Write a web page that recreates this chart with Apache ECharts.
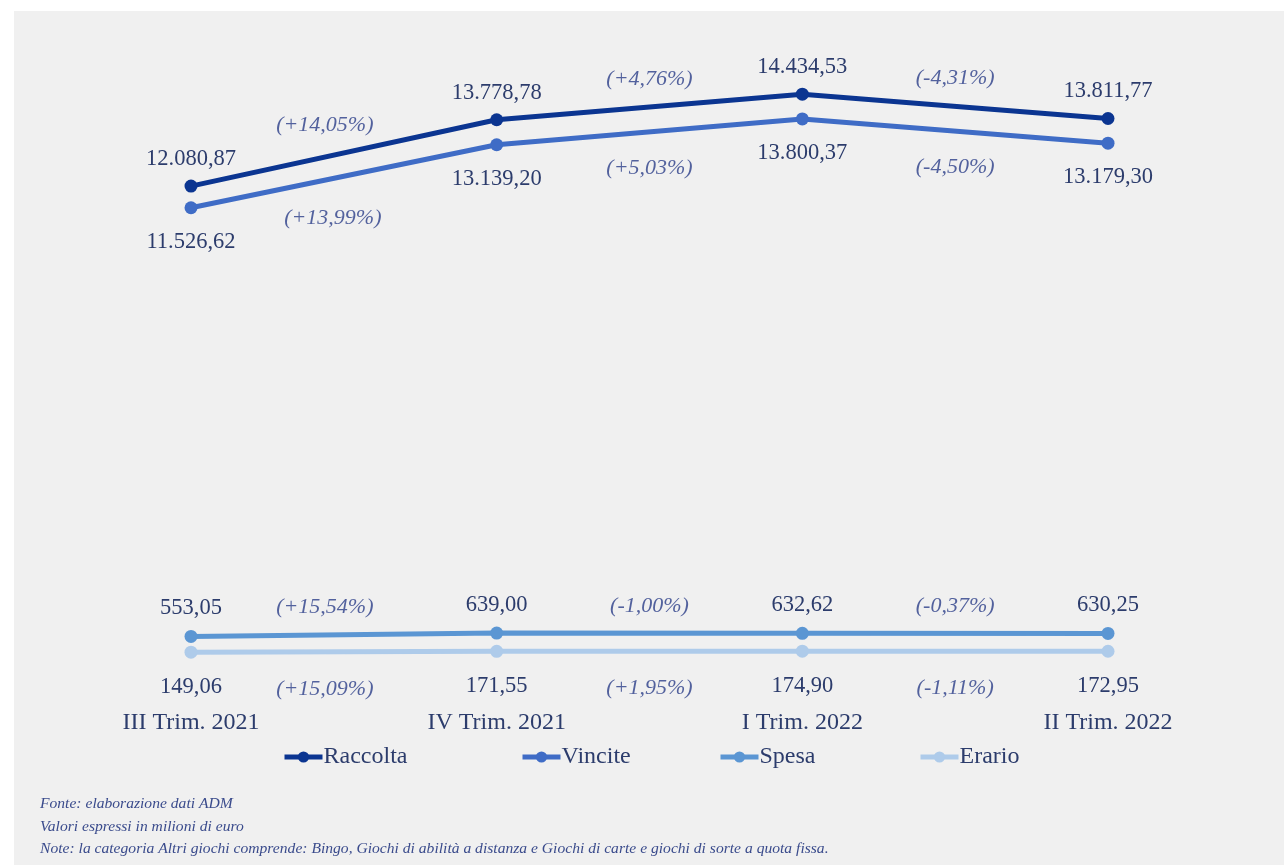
<!DOCTYPE html>
<html>
<head>
<meta charset="utf-8">
<script src="https://cdn.jsdelivr.net/npm/echarts@6/dist/echarts.min.js"></script>
<style>
html,body{margin:0;padding:0;background:#ffffff;}
#chart{width:1284px;height:865px;}
</style>
</head>
<body>
<div id="chart"></div>
<script>
const categories = ['III Trim. 2021', 'IV Trim. 2021', 'I Trim. 2022', 'II Trim. 2022'];
const seriesNames = ['Raccolta', 'Vincite', 'Spesa', 'Erario'];
const raccolta = [12080.87, 13778.78, 14434.53, 13811.77];
const vincite = [11526.62, 13139.20, 13800.37, 13179.30];
const spesa = [553.05, 639.00, 632.62, 630.25];
const erario = [149.06, 171.55, 174.90, 172.95];
const raccoltaPct = ['(+14,05%)', '(+4,76%)', '(-4,31%)'];
const vincitePct = ['(+13,99%)', '(+5,03%)', '(-4,50%)'];
const spesaPct = ['(+15,54%)', '(-1,00%)', '(-0,37%)'];
const erarioPct = ['(+15,09%)', '(+1,95%)', '(-1,11%)'];
const notes = [
  'Fonte: elaborazione dati ADM',
  'Valori espressi in milioni di euro',
  'Note: la categoria Altri giochi comprende: Bingo, Giochi di abilità a distanza e Giochi di carte e giochi di sorte a quota fissa.'
];

const SERIF = '"Liberation Serif", "DejaVu Serif", serif';
const TXT = '#2c3c6c';
const PCT = '#2a3d88';
const COLORS = ['#0b3591', '#3f6cc6', '#5b96d3', '#aecbea'];

function itFmt(v) {
  const parts = v.toFixed(2).split('.');
  parts[0] = parts[0].replace(/\B(?=(\d{3})+(?!\d))/g, '.');
  return parts[0] + ',' + parts[1];
}

function lineSeries(name, data, color, pos, dist) {
  return {
    name: name, type: 'line', data: data,
    xAxisIndex: 0, yAxisIndex: 0,
    symbol: 'circle', symbolSize: 13,
    lineStyle: { width: 5, color: color },
    itemStyle: { color: color },
    label: {
      show: true, position: pos, distance: dist,
      fontFamily: SERIF, fontSize: 22.5, color: TXT,
      formatter: p => itFmt(p.value)
    },
    z: 3
  };
}

function pctSeries(vals, labels, pos, dist, firstOffset) {
  return {
    type: 'scatter', xAxisIndex: 1, yAxisIndex: 0,
    symbolSize: 0, silent: true,
    data: labels.map((l, i) => ({
      value: [i + 0.5, (vals[i] + vals[i + 1]) / 2, l],
      label: i === 0 ? { offset: firstOffset } : {}
    })),
    label: {
      show: true, position: pos, distance: dist,
      fontFamily: SERIF, fontSize: 22, fontStyle: 'italic', color: PCT,
      formatter: p => p.value[2]
    },
    tooltip: { show: false }
  };
}

const legendLefts = [282, 520, 718, 918];

const chart = echarts.init(document.getElementById('chart'), null, { renderer: 'canvas' });

const option = {
  backgroundColor: '#ffffff',
  animation: false,
  graphic: [
    { type: 'rect', left: 14, top: 11, z: -10, shape: { width: 1270, height: 854 }, style: { fill: '#f0f0f0' } }
  ].concat(notes.map((t, i) => ({
    type: 'text', left: 40, top: 796 + i * 22.5, z: 10,
    style: { text: t, fontFamily: SERIF, fontSize: 15.6, fontStyle: 'italic', fill: '#3a4b8c' }
  }))),
  grid: { left: 191, right: 176, top: 33, bottom: 207, containLabel: false },
  legend: seriesNames.map((n, i) => ({
    data: [n],
    left: legendLefts[i], top: 745, padding: 0,
    itemWidth: 38, itemHeight: 14,
    lineStyle: { width: 5 },
    textStyle: { fontFamily: SERIF, fontSize: 24, color: TXT, padding: [0, 0, 0, -4] }
  })),
  xAxis: [
    {
      type: 'category', data: categories, boundaryGap: false,
      axisLine: { show: false }, axisTick: { show: false },
      axisLabel: { margin: 53, fontFamily: SERIF, fontSize: 24, color: TXT },
      splitLine: { show: false }
    },
    { type: 'value', min: 0, max: 3, show: false }
  ],
  yAxis: {
    type: 'value', min: 0, max: 16000, show: false, splitLine: { show: false }
  },
  series: [
    lineSeries(seriesNames[0], raccolta, COLORS[0], 'top', 9),
    lineSeries(seriesNames[1], vincite, COLORS[1], 'bottom', 16),
    lineSeries(seriesNames[2], spesa, COLORS[2], 'top', 10),
    lineSeries(seriesNames[3], erario, COLORS[3], 'bottom', 17),
    pctSeries(raccolta, raccoltaPct, 'top', 17, [-19, 0]),
    pctSeries(vincite, vincitePct, 'bottom', 25, [-11, 6]),
    pctSeries(spesa, spesaPct, 'top', 16, [-19, 0]),
    pctSeries(erario, erarioPct, 'bottom', 26, [-19, 0])
  ]
};
chart.setOption(option);
</script>
</body>
</html>
